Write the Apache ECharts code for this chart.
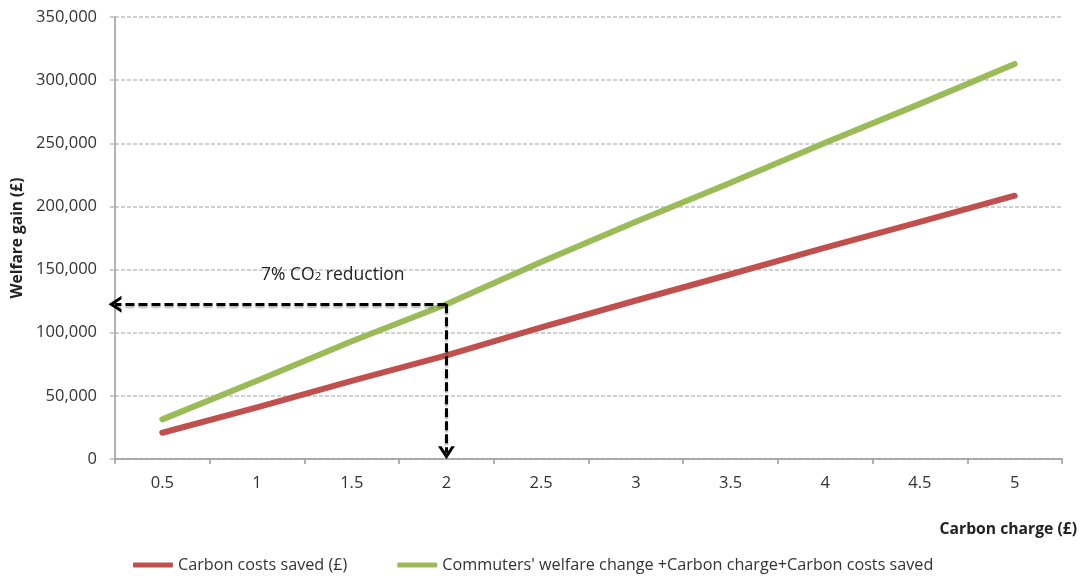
<!DOCTYPE html>
<html>
<head>
<meta charset="utf-8">
<script src="https://cdn.jsdelivr.net/npm/echarts@6/dist/echarts.min.js"></script>
<style>
  html, body { margin: 0; padding: 0; background: #fff; }
  #chart { width: 1086px; height: 584px; }
</style>
</head>
<body>
<div id="chart"></div>
<script>
// Carbon charge levels (£)
const charges = ['0.5', '1', '1.5', '2', '2.5', '3', '3.5', '4', '4.5', '5'];

// Welfare gain (£) per carbon charge
const carbonCostsSaved = [20800, 40800, 61800, 82000, 104300, 125500, 146300, 167300, 187800, 208500];
const totalWelfare = [31400, 61900, 93200, 122500, 156000, 187800, 218800, 250500, 281200, 312800];

const seriesNames = [
  'Carbon costs saved (£)',
  "Commuters' welfare change +Carbon charge+Carbon costs saved"
];

// Y-axis range
const yMin = 0, yMax = 350000, yStep = 50000;

// The highlighted charge (index into charges) for the 7% CO2 reduction
const highlightIndex = 3;
const noteText = '7% CO{s|2} reduction';

const FONT = '"Open Sans", "Liberation Sans", sans-serif';

// Helper x scale (0..n) behind the category axis so annotations can reach the axis edge
const n = charges.length;
const xAt = i => i + 0.5;
const hlX = xAt(highlightIndex);
const hlY = totalWelfare[highlightIndex];

// Open chevron used as the arrow tip
const arrowHead = 'path://M0,10 L5,0 L10,10 L7.9,10 L5,4.2 L2.1,10 Z';

const chart = echarts.init(document.getElementById('chart'), null, { renderer: 'canvas' });

chart.setOption({
  animation: false,
  backgroundColor: '#ffffff',
  textStyle: { fontFamily: FONT },
  grid: { left: 115, right: 24, top: 17, bottom: 125, containLabel: false },
  legend: {
    left: 128,
    bottom: 6,
    itemGap: 50,
    itemWidth: 40,
    itemHeight: 5,
    icon: 'roundRect',
    textStyle: { fontFamily: FONT, fontSize: 16.2, color: '#333' },
    data: seriesNames
  },
  xAxis: [
    {
      type: 'category',
      data: charges,
      boundaryGap: true,
      name: 'Carbon charge (£)',
      nameLocation: 'end',
      nameGap: 15,
      nameTextStyle: {
        fontFamily: FONT, fontSize: 15.7, fontWeight: 'bold', color: '#222',
        align: 'right', verticalAlign: 'top', padding: [63, 0, 0, 0]
      },
      axisLine: { lineStyle: { color: '#999', width: 1.5 } },
      axisTick: { show: true, length: 5, lineStyle: { color: '#999', width: 1.5 } },
      axisLabel: { margin: 16, fontSize: 16.5, color: '#333', fontFamily: FONT },
      splitLine: { show: false }
    },
    {
      type: 'value',
      min: 0,
      max: n,
      show: false
    }
  ],
  yAxis: {
    type: 'value',
    min: yMin,
    max: yMax,
    interval: yStep,
    name: 'Welfare gain (£)',
    nameLocation: 'middle',
    nameGap: 89,
    nameTextStyle: { fontFamily: FONT, fontSize: 15.5, fontWeight: 'bold', color: '#222' },
    axisLine: { show: true, lineStyle: { color: '#999', width: 1.5 } },
    axisTick: { show: true, length: 5, lineStyle: { color: '#bbb', width: 1.5 } },
    axisLabel: {
      margin: 18, fontSize: 16.5, color: '#333', fontFamily: FONT,
      formatter: v => v.toLocaleString('en-US')
    },
    splitLine: { show: true, lineStyle: { color: '#d0d0d0', width: 2, type: [4, 2] } }
  },
  series: [
    {
      name: seriesNames[0],
      type: 'line',
      data: carbonCostsSaved,
      showSymbol: false,
      symbol: 'none',
      lineStyle: { color: '#C0504D', width: 6, cap: 'round', join: 'round' },
      itemStyle: { color: '#C0504D' },
      z: 3
    },
    {
      name: seriesNames[1],
      type: 'line',
      data: totalWelfare,
      showSymbol: false,
      symbol: 'none',
      lineStyle: { color: '#9BBB59', width: 6, cap: 'round', join: 'round' },
      itemStyle: { color: '#9BBB59' },
      z: 3
    },
    {
      // Dashed arrows marking the highlighted charge and its welfare gain
      name: 'annotation',
      type: 'line',
      xAxisIndex: 1,
      data: [[hlX, hlY]],
      showSymbol: false,
      symbol: 'none',
      lineStyle: { opacity: 0 },
      silent: true,
      z: 5,
      markLine: {
        silent: true,
        animation: false,
        symbol: ['none', arrowHead],
        symbolSize: [17, 13],
        label: { show: false },
        lineStyle: {
          color: '#000', width: 3, type: [9, 4],
          shadowColor: 'rgba(0,0,0,0.3)', shadowBlur: 2, shadowOffsetY: 2
        },
        emphasis: { disabled: true },
        data: [
          [{ coord: [hlX, hlY] }, { coord: [0, hlY] }],
          [{ coord: [hlX, hlY] }, { coord: [hlX, 5000] }]
        ]
      },
      markPoint: {
        silent: true,
        symbol: 'rect',
        symbolSize: 1,
        itemStyle: { color: 'rgba(0,0,0,0)' },
        label: {
          show: true,
          position: 'inside',
          formatter: noteText,
          fontFamily: FONT,
          fontSize: 17.5,
          color: '#222',
          rich: {
            s: { fontFamily: FONT, fontSize: 11.5, color: '#222', padding: [5, 0, 0, 0] }
          }
        },
        data: [{ coord: [2.3, 146000] }]
      }
    }
  ]
});
</script>
</body>
</html>
